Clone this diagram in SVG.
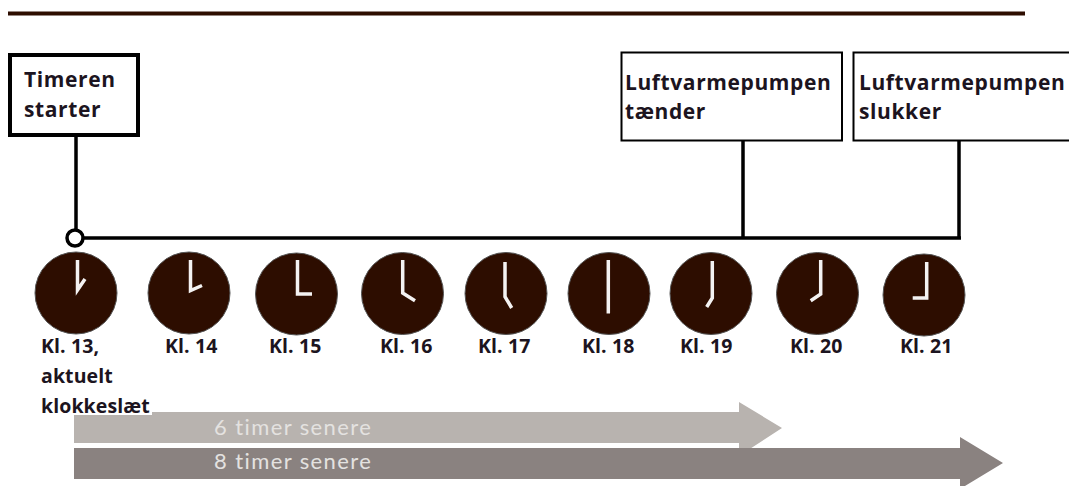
<svg xmlns="http://www.w3.org/2000/svg" width="1069" height="486" viewBox="0 0 1069 486">
<style>
text{font-family:"Open Sans","Lato","Liberation Sans",sans-serif;font-weight:700;fill:#1c1420}
.kl{font-size:19.500px;letter-spacing:.1px}
.bx{font-size:21px;letter-spacing:.6px}
.ar{font-family:"Lato","Open Sans",sans-serif;font-size:22px;font-weight:400;fill:#e4e2e0;letter-spacing:1.400px}
.face{fill:#2d0d00;stroke:#555;stroke-width:1}
.hand{fill:none;stroke:#fff;stroke-width:3.500;stroke-opacity:.95}
.box{fill:#fff;stroke:#000;stroke-width:2}
.wire{fill:none;stroke:#000;stroke-width:3.500}
</style>
<rect x="8" y="11.500" width="1017" height="4" fill="#2d0d00"/>
<g id="arrows">
<path id="arrow-6" d="M74 412H739V402L782 428L739 456V443H74Z" fill="#b8b3af"/>
<path id="arrow-8" d="M74 448H960V437L1003 463L960 489V479H74Z" fill="#8a8280"/>
<text class="ar" x="214" y="435">6 timer senere</text>
<text class="ar" x="214" y="469">8 timer senere</text>
</g>
<g id="connectors">
<path class="wire" d="M76 137V231M83 238H961M743 141V238M959 141V238"/>
<circle cx="75" cy="238" r="8" fill="#fff" stroke="#000" stroke-width="3.500"/>
</g>
<g id="node-start">
<rect x="10" y="55" width="128" height="80" fill="#fff" stroke="#000" stroke-width="4"/>
<text class="bx" x="24" y="87">Timeren</text>
<text class="bx" x="24" y="117">starter</text>
</g>
<g id="node-on">
<rect class="box" x="621.500" y="52.500" width="220.500" height="88"/>
<text class="bx" x="625" y="90">Luftvarmepumpen</text>
<text class="bx" x="625" y="119">tænder</text>
</g>
<g id="node-off">
<rect class="box" x="853.500" y="52.500" width="230" height="88"/>
<text class="bx" x="859" y="90">Luftvarmepumpen</text>
<text class="bx" x="859" y="119">slukker</text>
</g>
<g id="clock-13"><circle class="face" cx="76" cy="293" r="41"/><path class="hand" d="M77.500 260V290L85 279"/>
<rect x="40" y="399" width="112" height="16" fill="#fff"/>
<text class="kl" x="41" y="353">Kl. 13,</text><text class="kl" x="41" y="383">aktuelt</text><text class="kl" x="41" y="413">klokkeslæt</text></g>
<g id="clock-14"><circle class="face" cx="189" cy="293" r="41"/><path class="hand" d="M190.500 260V290.500L202 285.500"/><text class="kl" x="165" y="353">Kl. 14</text></g>
<g id="clock-15"><circle class="face" cx="296.500" cy="294" r="41"/><path class="hand" d="M297.500 260V294H312"/><text class="kl" x="269" y="353">Kl. 15</text></g>
<g id="clock-16"><circle class="face" cx="402.500" cy="293.500" r="41"/><path class="hand" d="M402.700 260V293L415 300.700"/><text class="kl" x="380" y="353">Kl. 16</text></g>
<g id="clock-17"><circle class="face" cx="506" cy="293.500" r="41"/><path class="hand" d="M505 262V296.700L511.700 308"/><text class="kl" x="478" y="353">Kl. 17</text></g>
<g id="clock-18"><circle class="face" cx="609" cy="293.500" r="41"/><path class="hand" d="M608.300 260V313.500"/><text class="kl" x="582" y="353">Kl. 18</text></g>
<g id="clock-19"><circle class="face" cx="711" cy="293.500" r="41"/><path class="hand" d="M712.300 261V298L706.700 307"/><text class="kl" x="680" y="353">Kl. 19</text></g>
<g id="clock-20"><circle class="face" cx="817.500" cy="293.500" r="41"/><path class="hand" d="M820.700 260V294L810.700 300.700"/><text class="kl" x="790" y="353">Kl. 20</text></g>
<g id="clock-21"><circle class="face" cx="924" cy="295" r="41"/><path class="hand" d="M926.700 262V298H912.700"/><text class="kl" x="900" y="353">Kl. 21</text></g>
</svg>
